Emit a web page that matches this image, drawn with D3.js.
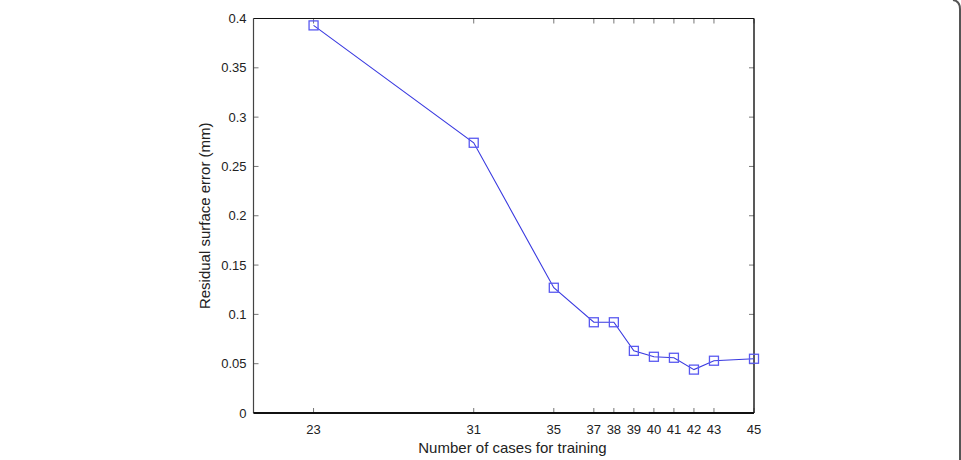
<!DOCTYPE html>
<html>
<head>
<meta charset="utf-8">
<script src="https://cdn.jsdelivr.net/npm/d3@7"></script>
<style>
  body { margin: 0; background: #fff; }
  text { font-family: "Liberation Sans", Arial, sans-serif; fill: #222; }
</style>
</head>
<body>
<div id="chart"></div>
<script>
// data
const trainingCases = [23, 31, 35, 37, 38, 39, 40, 41, 42, 43, 45];
const residualError = [0.393, 0.274, 0.127, 0.092, 0.092, 0.063, 0.057, 0.056, 0.044, 0.053, 0.055];
const xTicks = [23, 31, 35, 37, 38, 39, 40, 41, 42, 43, 45];
const yTicks = [0, 0.05, 0.1, 0.15, 0.2, 0.25, 0.3, 0.35, 0.4];

const W = 961, H = 460;
const margin = {top: 18.5, right: 207, bottom: 47, left: 253.5},
    width = W - margin.left - margin.right,
    height = H - margin.top - margin.bottom;

const svg = d3.select("#chart").append("svg")
    .attr("width", W)
    .attr("height", H);

// page frame edge on the right
svg.append("path")
    .attr("d", "M953,0 Q960,1 960,9 L960," + H)
    .style("fill", "none")
    .style("stroke", "#555")
    .style("stroke-width", 2);

const g = svg.append("g")
    .attr("transform", "translate(" + margin.left + "," + margin.top + ")");

const x = d3.scaleLinear().domain([20, 45]).range([0, width]);
const y = d3.scaleLinear().domain([0, 0.4]).range([height, 0]);

// ticks inside the box, on all four sides
const tickLen = 5;
g.selectAll(".xt").data(xTicks).enter().append("path")
    .attr("d", d => "M" + x(d) + "," + height + "v" + (-tickLen) + "M" + x(d) + ",0v" + tickLen)
    .style("stroke", "#777").style("stroke-width", 1);
g.selectAll(".yt").data(yTicks).enter().append("path")
    .attr("d", d => "M0," + y(d) + "h" + tickLen + "M" + width + "," + y(d) + "h" + (-tickLen))
    .style("stroke", "#777").style("stroke-width", 1);

// box
g.append("line").attr("x1", 0).attr("x2", width).attr("y1", 0).attr("y2", 0)
    .style("stroke", "#111").style("stroke-width", 1.2);
g.append("line").attr("x1", width).attr("x2", width).attr("y1", 0).attr("y2", height)
    .style("stroke", "#222").style("stroke-width", 1.5);
g.append("line").attr("x1", 0).attr("x2", 0).attr("y1", 0).attr("y2", height)
    .style("stroke", "#444").style("stroke-width", 1.2);
g.append("line").attr("x1", 0).attr("x2", width).attr("y1", height).attr("y2", height)
    .style("stroke", "#111").style("stroke-width", 2.2);

// tick labels
g.selectAll(".xl").data(xTicks).enter().append("text")
    .attr("x", d => x(d))
    .attr("y", height + 21)
    .style("text-anchor", "middle")
    .style("font-size", "13px")
    .text(d => d);
g.selectAll(".yl").data(yTicks).enter().append("text")
    .attr("x", -7)
    .attr("y", d => y(d))
    .attr("dy", ".35em")
    .style("text-anchor", "end")
    .style("font-size", "13px")
    .text(d => d);

// axis titles
g.append("text")
    .attr("x", 259)
    .attr("y", height + 40)
    .style("text-anchor", "middle")
    .style("font-size", "15px")
    .text("Number of cases for training");
g.append("text")
    .attr("transform", "rotate(-90)")
    .attr("x", -height / 2)
    .attr("y", -44)
    .style("text-anchor", "middle")
    .style("font-size", "15px")
    .text("Residual surface error (mm)");

// the line and its square markers
const pts = trainingCases.map((c, i) => ({cases: c, err: residualError[i]}));
const line = d3.line()
    .x(d => x(d.cases))
    .y(d => y(d.err));

g.append("path")
    .datum(pts)
    .attr("d", line)
    .style("fill", "none")
    .style("stroke", "#3a3ae0")
    .style("stroke-width", 1.1);

const s = 9;
g.selectAll(".mk").data(pts).enter().append("rect")
    .attr("x", d => x(d.cases) - s / 2)
    .attr("y", d => y(d.err) - s / 2)
    .attr("width", s)
    .attr("height", s)
    .style("fill", "none")
    .style("stroke", "#5a5af0")
    .style("stroke-width", 1.3);
</script>
</body>
</html>
